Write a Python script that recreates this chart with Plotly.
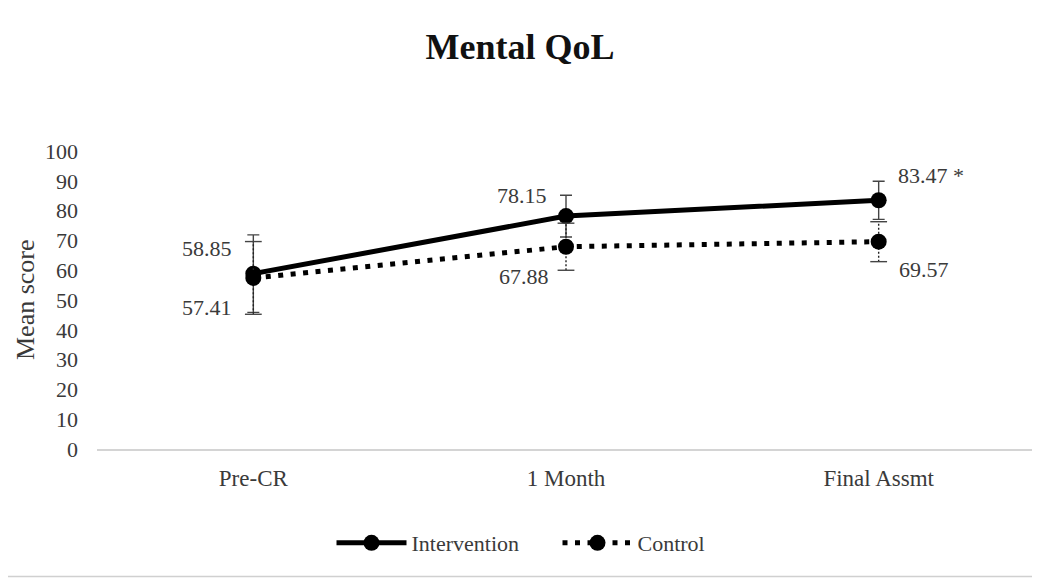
import plotly.graph_objects as go

categories = ["Pre-CR", "1 Month", "Final Assmt"]
intervention = [58.85, 78.15, 83.47]
intervention_err = [13.0, 7.0, 6.4]
control = [57.41, 67.88, 69.57]
control_err = [12.2, 7.9, 6.7]
int_labels = ["58.85", "78.15", "83.47 *"]
ctl_labels = ["57.41", "67.88", "69.57"]
y_ticks = list(range(0, 101, 10))

FONT = "Liberation Serif, Times New Roman, serif"
TXT = "#3a3a3a"
# page body adds an 8px offset; figure sized to fill the rest of the window
W, H = 1032, 570
ML, MR, MT, MB = 89, 5, 143, 129
pw = W - ML - MR
ph = H - MT - MB

fig = go.Figure()

# Intervention line with solid error bars
fig.add_trace(go.Scatter(
    x=categories, y=intervention, name="Intervention", mode="lines+markers",
    line=dict(color="black", width=5),
    marker=dict(color="black", size=16, symbol="circle"),
    error_y=dict(type="data", array=intervention_err, visible=True,
                 color="#444444", thickness=1.4, width=6),
))

# Control dotted error bars (dotted vertical segments with caps)
for c, v, e in zip(categories, control, control_err):
    fig.add_trace(go.Scatter(
        x=[c, c], y=[v - e, v + e], mode="lines",
        line=dict(color="#222222", width=1.4, dash="2px,2px"),
        showlegend=False, hoverinfo="skip",
    ))
    fig.add_trace(go.Scatter(
        x=[c, c], y=[v - e, v + e], mode="markers",
        marker=dict(symbol="line-ew", size=12, line=dict(color="#444444", width=1.4)),
        showlegend=False, hoverinfo="skip",
    ))

fig.add_trace(go.Scatter(
    x=categories, y=control, name="Control", mode="lines+markers",
    line=dict(color="black", width=5, dash="5px,7.5px"),
    marker=dict(color="black", size=16, symbol="circle"),
))

# Data labels
int_pos = [("right", -19, 25), ("right", -17, 21), ("left", 17, 25)]
ctl_pos = [("right", -19, -30), ("right", -15, -30), ("left", 18, -28)]
for c, v, t, (xa, xs, ys) in zip(categories, intervention, int_labels, int_pos):
    fig.add_annotation(x=c, y=v, text=t, showarrow=False, xanchor=xa, yanchor="middle",
                       xshift=xs, yshift=ys, font=dict(family=FONT, size=22, color=TXT))
for c, v, t, (xa, xs, ys) in zip(categories, control, ctl_labels, ctl_pos):
    fig.add_annotation(x=c, y=v, text=t, showarrow=False, xanchor=xa, yanchor="middle",
                       xshift=xs, yshift=ys, font=dict(family=FONT, size=22, color=TXT))

# y-axis title
fig.add_annotation(xref="paper", yref="paper", x=(17 - ML) / pw, y=0.5, text="Mean score",
                   textangle=-90, showarrow=False, xanchor="center", yanchor="middle",
                   font=dict(family=FONT, size=26, color=TXT))

# right / bottom frame edges
fig.add_shape(type="line", xref="paper", yref="paper",
              x0=1 + (MR - 4) / pw, x1=1 + (MR - 4) / pw, y0=-(MB - 1.5) / ph, y1=1 + MT / ph,
              line=dict(color="#d0d0d0", width=1.5))
fig.add_shape(type="line", xref="paper", yref="paper",
              x0=-ML / pw, x1=1 + (MR - 4) / pw, y0=-(MB - 1.5) / ph, y1=-(MB - 1.5) / ph,
              line=dict(color="#d0d0d0", width=1.5))

fig.update_layout(
    width=W, height=H,
    margin=dict(l=ML, r=MR, t=MT, b=MB),
    paper_bgcolor="white", plot_bgcolor="white",
    title=dict(text="<b>Mental QoL</b>", x=512 / W, xanchor="center", y=1 - 38 / H, yanchor="middle",
               font=dict(family=FONT, size=36, color="#111111")),
    font=dict(family=FONT, color=TXT),
    xaxis=dict(type="category", categoryorder="array", categoryarray=categories,
               range=[-0.5, 2.5], showgrid=False, showline=True, linecolor="#d4d4d4", linewidth=1.5,
               ticks="", ticklabelstandoff=8,
               tickfont=dict(family=FONT, size=23, color=TXT), zeroline=False),
    yaxis=dict(range=[0, 100], tickvals=y_ticks, showgrid=False, showline=False, zeroline=False,
               ticks="", ticklabelstandoff=18,
               tickfont=dict(family=FONT, size=22, color=TXT)),
    legend=dict(orientation="h", x=(549.5 - ML) / pw, xanchor="center", y=-94 / ph, yanchor="middle",
                font=dict(family=FONT, size=22, color=TXT), itemwidth=70, entrywidth=141,
                bgcolor="rgba(0,0,0,0)"),
    showlegend=True,
)

fig.write_html("out.html")
